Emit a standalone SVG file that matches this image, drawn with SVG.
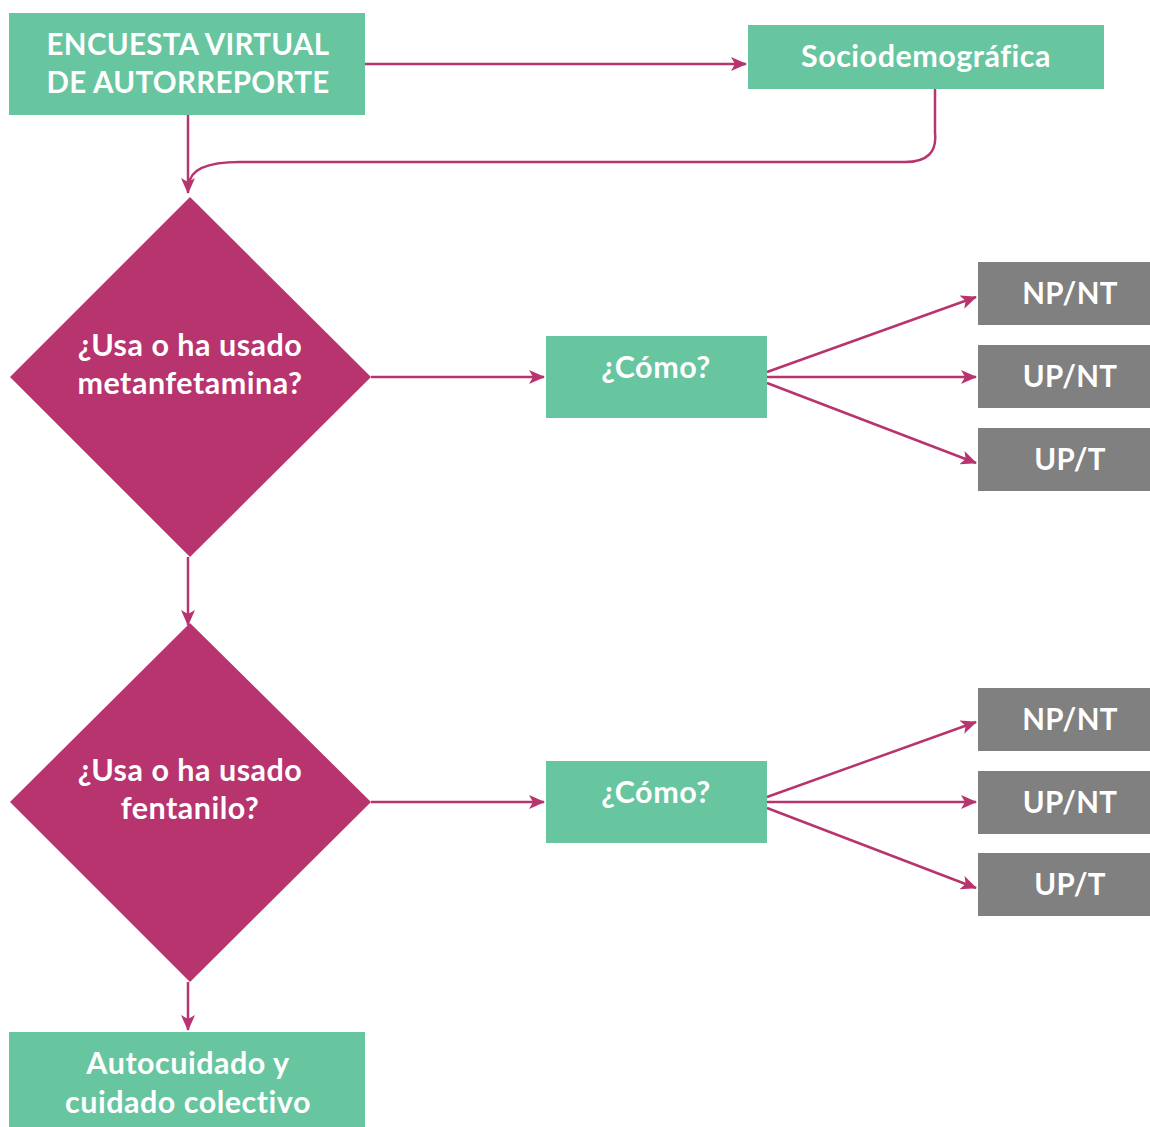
<svg xmlns="http://www.w3.org/2000/svg" width="1150" height="1127" viewBox="0 0 1150 1127">
<style>
.g{fill:#67C5A0}
.d{fill:#B7346F}
.gr{fill:#808080}
.t{font-family:Lato,"Liberation Sans",sans-serif;font-weight:700;fill:#fff;text-anchor:middle;font-size:30.5px;letter-spacing:0.5px}
.cap{font-size:29.5px;letter-spacing:0.3px}
.c{stroke:#B7346F;stroke-width:2.5;fill:none}
</style>
<defs>
<marker id="ah" markerWidth="16" markerHeight="14" refX="15" refY="7" orient="auto" markerUnits="userSpaceOnUse">
<path d="M0,0 L16,7 L0,14 L4,7 Z" fill="#B7346F"/>
</marker>
</defs>
<g id="connectors">
<path class="c" d="M365,64 H746" marker-end="url(#ah)"/>
<path class="c" d="M188,115 V193" marker-end="url(#ah)"/>
<path class="c" d="M935,89 V133 Q938,162 905,162 H240 Q190,162 189,185"/>
<path class="c" d="M371,377 H544" marker-end="url(#ah)"/>
<path class="c" d="M767,372 L976,297" marker-end="url(#ah)"/>
<path class="c" d="M767,377 H976" marker-end="url(#ah)"/>
<path class="c" d="M767,383 L976,463" marker-end="url(#ah)"/>
<path class="c" d="M188,557 V625" marker-end="url(#ah)"/>
<path class="c" d="M371,802 H544" marker-end="url(#ah)"/>
<path class="c" d="M767,797 L976,722" marker-end="url(#ah)"/>
<path class="c" d="M767,802 H976" marker-end="url(#ah)"/>
<path class="c" d="M767,808 L976,888" marker-end="url(#ah)"/>
<path class="c" d="M188,982 V1030" marker-end="url(#ah)"/>
</g>
<g id="n-encuesta"><rect class="g" x="9" y="13" width="356" height="102"/><text class="t cap" x="188" y="55">ENCUESTA VIRTUAL</text><text class="t cap" x="188" y="93">DE AUTORREPORTE</text></g>
<g id="n-socio"><rect class="g" x="748" y="25" width="356" height="64"/><text class="t" x="926" y="67">Sociodemográfica</text></g>
<g id="n-q1"><polygon class="d" points="190,197 371,377 190,557 10,377"/><text class="t" x="190" y="356">¿Usa o ha usado</text><text class="t" x="190" y="394">metanfetamina?</text></g>
<g id="n-como1"><rect class="g" x="546" y="336" width="221" height="82"/><text class="t" x="656" y="378">¿Cómo?</text></g>
<g id="n-a1"><rect class="gr" x="978" y="262" width="172" height="63"/><text class="t cap" x="1070" y="304">NP/NT</text></g>
<g id="n-b1"><rect class="gr" x="978" y="345" width="172" height="63"/><text class="t cap" x="1070" y="387">UP/NT</text></g>
<g id="n-c1"><rect class="gr" x="978" y="428" width="172" height="63"/><text class="t cap" x="1070" y="470">UP/T</text></g>
<g id="n-q2"><polygon class="d" points="190,623 371,802 190,982 10,802"/><text class="t" x="190" y="781">¿Usa o ha usado</text><text class="t" x="190" y="819">fentanilo?</text></g>
<g id="n-como2"><rect class="g" x="546" y="761" width="221" height="82"/><text class="t" x="656" y="803">¿Cómo?</text></g>
<g id="n-a2"><rect class="gr" x="978" y="688" width="172" height="63"/><text class="t cap" x="1070" y="730">NP/NT</text></g>
<g id="n-b2"><rect class="gr" x="978" y="771" width="172" height="63"/><text class="t cap" x="1070" y="813">UP/NT</text></g>
<g id="n-c2"><rect class="gr" x="978" y="853" width="172" height="63"/><text class="t cap" x="1070" y="895">UP/T</text></g>
<g id="n-auto"><rect class="g" x="9" y="1032" width="356" height="95"/><text class="t" x="188" y="1074">Autocuidado y</text><text class="t" x="188" y="1113">cuidado colectivo</text></g>
</svg>
